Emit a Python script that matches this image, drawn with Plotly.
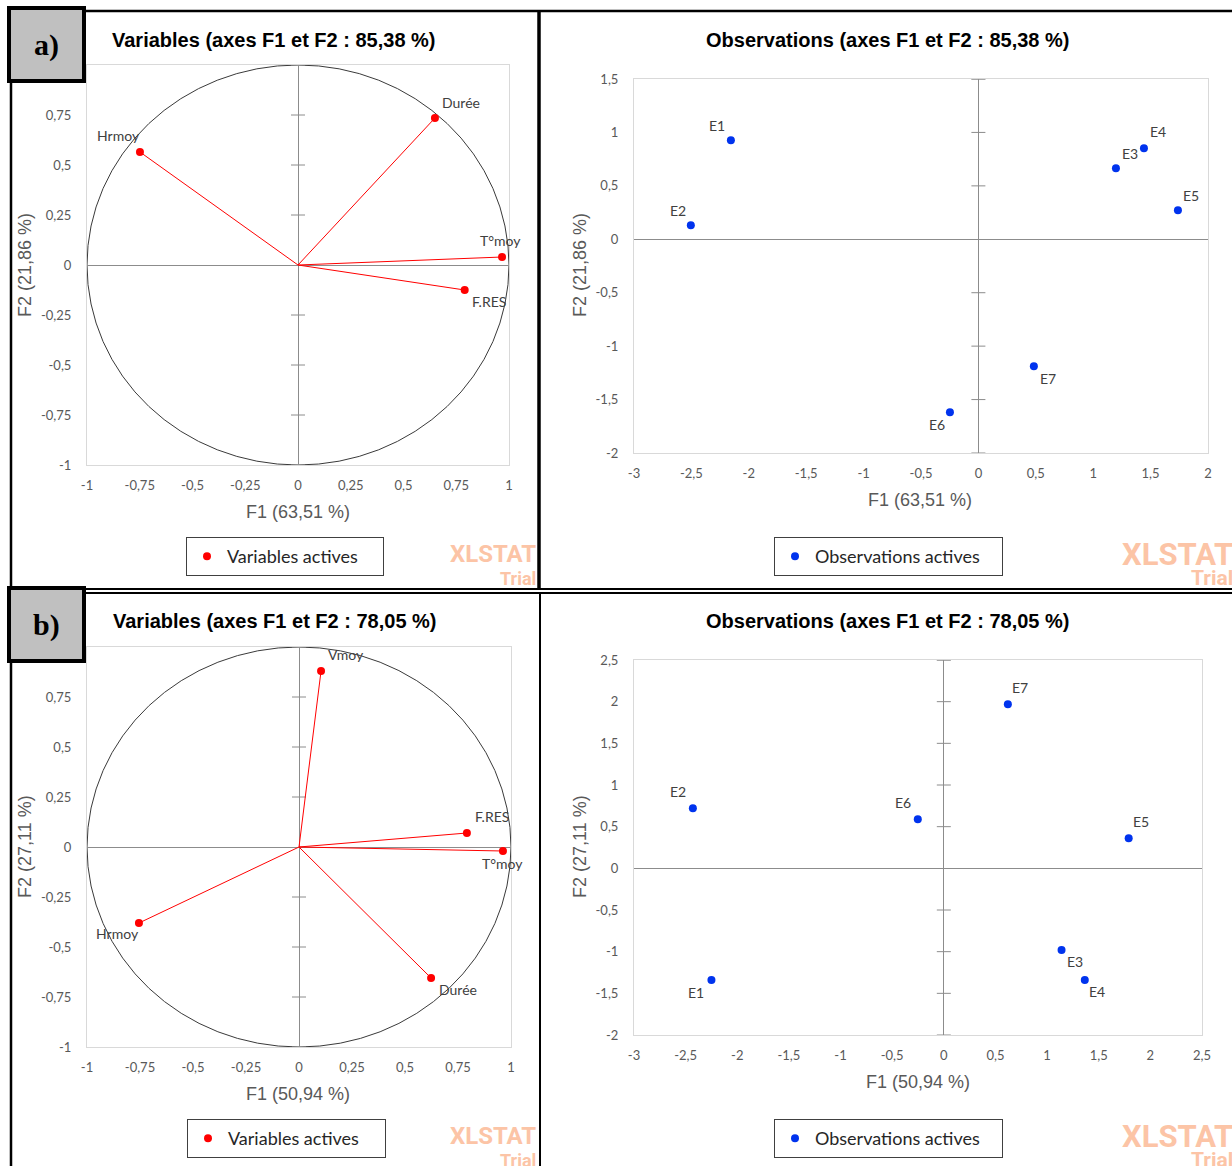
import plotly.graph_objects as go

W, H = 1232, 1166

# ---------------- data ----------------
# a) Variables (F1, F2 loadings)
var_a_names = ["Durée", "Hrmoy", "T°moy", "F.RES"]
var_a_f1 = [0.649, -0.749, 0.967, 0.790]
var_a_f2 = [0.735, 0.565, 0.040, -0.125]

# a) Observations (F1, F2 scores)
obs_a_names = ["E1", "E2", "E3", "E4", "E5", "E6", "E7"]
obs_a_f1 = [-2.156, -2.505, 1.198, 1.442, 1.738, -0.248, 0.483]
obs_a_f2 = [0.926, 0.131, 0.664, 0.851, 0.271, -1.618, -1.188]

# b) Variables
var_b_names = ["Vmoy", "F.RES", "T°moy", "Hrmoy", "Durée"]
var_b_f1 = [0.104, 0.792, 0.962, -0.755, 0.623]
var_b_f2 = [0.880, 0.070, -0.020, -0.380, -0.655]

# b) Observations
obs_b_names = ["E1", "E2", "E3", "E4", "E5", "E6", "E7"]
obs_b_f1 = [-2.250, -2.430, 1.140, 1.365, 1.790, -0.252, 0.620]
obs_b_f2 = [-1.340, 0.720, -0.980, -1.340, 0.360, 0.588, 1.970]

# titles
titles = [
    "Variables (axes F1 et F2 : 85,38 %)",
    "Observations (axes F1 et F2 : 85,38 %)",
    "Variables (axes F1 et F2 : 78,05 %)",
    "Observations (axes F1 et F2 : 78,05 %)",
]
x_titles = ["F1 (63,51 %)", "F1 (63,51 %)", "F1 (50,94 %)", "F1 (50,94 %)"]
y_titles = ["F2 (21,86 %)", "F2 (21,86 %)", "F2 (27,11 %)", "F2 (27,11 %)"]
legend_names = ["Variables actives", "Observations actives",
                "Variables actives", "Observations actives"]
panel_tags = ["a)", "b)"]

# tick values / labels
circ_x_vals = [-1, -0.75, -0.5, -0.25, 0, 0.25, 0.5, 0.75, 1]
circ_x_text = ["-1", "-0,75", "-0,5", "-0,25", "0", "0,25", "0,5", "0,75", "1"]
circ_y_vals = [-1, -0.75, -0.5, -0.25, 0, 0.25, 0.5, 0.75]
circ_y_text = ["-1", "-0,75", "-0,5", "-0,25", "0", "0,25", "0,5", "0,75"]

obs_a_x_vals = [-3, -2.5, -2, -1.5, -1, -0.5, 0, 0.5, 1, 1.5, 2]
obs_a_x_text = ["-3", "-2,5", "-2", "-1,5", "-1", "-0,5", "0", "0,5", "1", "1,5", "2"]
obs_a_y_vals = [-2, -1.5, -1, -0.5, 0, 0.5, 1, 1.5]
obs_a_y_text = ["-2", "-1,5", "-1", "-0,5", "0", "0,5", "1", "1,5"]

obs_b_x_vals = [-3, -2.5, -2, -1.5, -1, -0.5, 0, 0.5, 1, 1.5, 2, 2.5]
obs_b_x_text = ["-3", "-2,5", "-2", "-1,5", "-1", "-0,5", "0", "0,5", "1", "1,5", "2", "2,5"]
obs_b_y_vals = [-2, -1.5, -1, -0.5, 0, 0.5, 1, 1.5, 2, 2.5]
obs_b_y_text = ["-2", "-1,5", "-1", "-0,5", "0", "0,5", "1", "1,5", "2", "2,5"]

# ---------------- style / layout ----------------
def px(x):
    return x / W


def py(y):
    return 1 - y / H


RED = "#ff0000"
BLUE = "#0033ee"
TICK_COL = "#595959"
LBL_COL = "#404040"
WM_COL = "#fcc4a6"
LBL_FONT = "Lato"

# plot areas in pixels: (left, top, right, bottom)
areas = [(87, 65, 509, 465), (634, 79, 1208, 453),
         (87, 647, 511, 1047), (634, 660, 1202, 1035)]
ranges = [([-1, 1], [-1, 1]), ([-3, 2], [-2, 1.5]),
          ([-1, 1], [-1, 1]), ([-3, 2.5], [-2, 2.5])]
ticks = [(circ_x_vals, circ_x_text, circ_y_vals, circ_y_text),
         (obs_a_x_vals, obs_a_x_text, obs_a_y_vals, obs_a_y_text),
         (circ_x_vals, circ_x_text, circ_y_vals, circ_y_text),
         (obs_b_x_vals, obs_b_x_text, obs_b_y_vals, obs_b_y_text)]
title_pos = [(274, 40), (888, 40), (275, 621), (888, 621)]
xtitle_pos = [(298, 512), (920, 500), (298, 1094), (918, 1082)]
ytitle_pos = [(25, 265), (580, 265), (25, 847), (580, 847)]
legend_pos = [(186, 537), (774, 537), (187, 1119), (774, 1119)]
legend_w = [197, 228, 198, 228]

# label offsets (dx right, dy down) in px per point label
offs_var_a = {"Durée": (26, -16), "Hrmoy": (-21, -17), "T°moy": (-2, -17), "F.RES": (24, 11)}
offs_obs_a = {"E1": (-14, -15), "E2": (-13, -15), "E3": (14, -15), "E4": (14, -17),
              "E5": (13, -15), "E6": (-13, 12), "E7": (14, 12)}
offs_var_b = {"Vmoy": (25, -17), "F.RES": (25, -17), "T°moy": (0, 12),
              "Hrmoy": (-21, 10), "Durée": (27, 11)}
offs_obs_b = {"E1": (-15, 12), "E2": (-15, -17), "E3": (13, 11), "E4": (12, 11),
              "E5": (12, -17), "E6": (-15, -17), "E7": (12, -17)}

panels = [
    ("var", var_a_names, var_a_f1, var_a_f2, offs_var_a),
    ("obs", obs_a_names, obs_a_f1, obs_a_f2, offs_obs_a),
    ("var", var_b_names, var_b_f1, var_b_f2, offs_var_b),
    ("obs", obs_b_names, obs_b_f1, obs_b_f2, offs_obs_b),
]

fig = go.Figure()
layout = dict(
    width=W, height=H, margin=dict(l=0, r=0, t=0, b=0),
    paper_bgcolor="white", plot_bgcolor="white", showlegend=True,
    font=dict(family="Liberation Sans", color=TICK_COL),
)
annotations = []
shapes = []


def paper_text(x, y, text, font, **kw):
    d = dict(x=px(x), y=py(y), xref="paper", yref="paper", text=text, showarrow=False,
             xanchor="center", yanchor="middle", font=font)
    d.update(kw)
    annotations.append(d)


for i, (kind, names, f1, f2, offs) in enumerate(panels):
    k = "" if i == 0 else str(i + 1)
    xa, ya = "x" + k, "y" + k
    leg = "legend" + k
    l, t, r, b = areas[i]
    xv, xt, yv, yt = ticks[i]
    common = dict(showgrid=False, zeroline=True, zerolinecolor="#8c8c8c",
                  zerolinewidth=1, showline=True, linecolor="#d9d9d9", linewidth=1,
                  mirror=True, ticks="", tickmode="array", fixedrange=True,
                  tickfont=dict(family=LBL_FONT, size=13, color=TICK_COL),
                  automargin=False)
    layout["xaxis" + k] = dict(common, domain=[px(l), px(r)], range=ranges[i][0],
                               tickvals=xv, ticktext=xt, anchor=ya,
                               ticklabelstandoff=8)
    layout["yaxis" + k] = dict(common, domain=[py(b), py(t)], range=ranges[i][1],
                               tickvals=yv, ticktext=yt, anchor=xa,
                               ticklabelstandoff=12)

    # cross tick marks on the vertical zero line
    tv = [v for v in yv if v != 0] + [ranges[i][1][1]]
    fig.add_trace(go.Scatter(x=[0] * len(tv), y=tv, mode="markers", xaxis=xa, yaxis=ya,
                             marker=dict(symbol="line-ew", size=10,
                                         line=dict(color="#8c8c8c", width=1)),
                             showlegend=False, hoverinfo="skip"))

    if kind == "var":
        shapes.append(dict(type="circle", xref=xa, yref=ya, x0=-1, y0=-1, x1=1, y1=1,
                           line=dict(color="#3a3a3a", width=1), layer="below"))
        vx, vy = [], []
        for a, c in zip(f1, f2):
            vx += [0, a, None]
            vy += [0, c, None]
        fig.add_trace(go.Scatter(x=vx, y=vy, mode="lines", xaxis=xa, yaxis=ya,
                                 line=dict(color=RED, width=1), showlegend=False,
                                 hoverinfo="skip"))
        col = RED
    else:
        col = BLUE
    fig.add_trace(go.Scatter(x=f1, y=f2, mode="markers", xaxis=xa, yaxis=ya,
                             marker=dict(color=col, size=8), name=legend_names[i],
                             text=names, legend=leg,
                             hovertemplate="%{text}<br>F1=%{x}<br>F2=%{y}<extra></extra>"))
    for n, a, c in zip(names, f1, f2):
        dx, dy = offs[n]
        annotations.append(dict(x=a, y=c, xref=xa, yref=ya, text=n, showarrow=False,
                                xanchor="center", yanchor="middle",
                                xshift=dx, yshift=-dy,
                                font=dict(family=LBL_FONT, size=14, color=LBL_COL)))

    lx, ly = legend_pos[i]
    layout[leg] = dict(x=px(lx), y=py(ly), xanchor="left", yanchor="top",
                       orientation="h", entrywidth=legend_w[i] - 46,
                       entrywidthmode="pixels",
                       bordercolor="#404040", borderwidth=1, bgcolor="white",
                       font=dict(family=LBL_FONT, size=18, color="#262626"),
                       itemclick=False, itemdoubleclick=False)

    # title and axis titles
    tx, ty = title_pos[i]
    paper_text(tx, ty, "<b>" + titles[i] + "</b>",
               dict(family="Liberation Sans", size=20, color="#000000"))
    ax_, ay_ = xtitle_pos[i]
    paper_text(ax_, ay_, x_titles[i], dict(family="Liberation Sans", size=18, color=TICK_COL))
    bx_, by_ = ytitle_pos[i]
    paper_text(bx_, by_, y_titles[i], dict(family="Liberation Sans", size=18, color=TICK_COL),
               textangle=-90)

# XLSTAT watermarks
for (x_, y_, xanc, s1, s2) in [(537, 554, "right", 24, 18), (1121, 554, "left", 31, 21),
                                (537, 1136, "right", 24, 18), (1121, 1136, "left", 31, 21)]:
    paper_text(x_, y_, "<b>XLSTAT</b>", dict(family="Roboto", size=s1, color=WM_COL),
               xanchor=xanc, borderpad=0)
    tx_ = 537 if xanc == "right" else 1190
    paper_text(tx_, y_ + 24, "<b>Trial</b>", dict(family="Roboto", size=s2, color=WM_COL),
               xanchor=xanc, borderpad=0)


# frame lines
def hline(y, x0, x1, w):
    shapes.append(dict(type="line", xref="paper", yref="paper", x0=px(x0), x1=px(x1),
                       y0=py(y), y1=py(y), line=dict(color="black", width=w)))


def vline(x, y0, y1, w):
    shapes.append(dict(type="line", xref="paper", yref="paper", x0=px(x), x1=px(x),
                       y0=py(y0), y1=py(y1), line=dict(color="black", width=w)))


hline(11, 10, 1232, 2.5)
vline(11, 10, 1166, 2.5)
vline(539, 10, 589, 3.5)
vline(540, 593, 1166, 2)
hline(589, 10, 1232, 2)
hline(593, 10, 1232, 2)

# panel tag boxes
for (y0, y1), tag in zip([(8, 81), (588, 661)], panel_tags):
    shapes.append(dict(type="rect", xref="paper", yref="paper", x0=px(9), x1=px(84),
                       y0=py(y1), y1=py(y0), fillcolor="#c0c0c0",
                       line=dict(color="black", width=4)))
    paper_text(46, (y0 + y1) / 2, "<b>" + tag + "</b>",
               dict(family="Liberation Serif", size=30, color="black"))

layout["annotations"] = annotations
layout["shapes"] = shapes
fig.update_layout(**layout)
fig.write_html("out.html", config={"displayModeBar": False},
               post_script="document.body.style.margin='0px';document.body.style.padding='0px';")
